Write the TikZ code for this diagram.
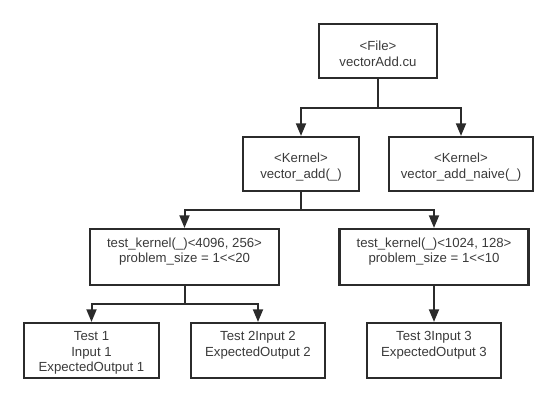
\documentclass[tikz,border=0pt]{standalone}
\usepackage{fontspec}
\setmainfont{Liberation Sans}
\usetikzlibrary{arrows.meta}
\definecolor{ln}{HTML}{2B2B2B}
\definecolor{tx}{HTML}{3A3A3A}
\begin{document}
\begin{tikzpicture}[x=0.75pt,y=-0.75pt,
  box/.style={draw=ln,line width=1.6pt,rectangle,inner sep=0pt,minimum height=#1*0.75pt},
  box/.default=54,
  txt/.style={anchor=north,align=center,text=tx,inner sep=0pt,font=\fontsize{9.9pt}{11.4pt}\selectfont},
  conn/.style={draw=ln,line width=1.5pt},
  arr/.style={conn,-{Triangle[width=7.5pt,length=9.5pt]}}]
\useasboundingbox (0,0) rectangle (558,403);
% boxes
\node[box,minimum width=118*0.75pt] (file) at (378,51) {};
\node[box,minimum width=116*0.75pt] (k1) at (301,164) {};
\node[box,minimum width=144*0.75pt] (k2) at (461,164) {};
\node[box=56,minimum width=189*0.75pt] (t1) at (184.5,257) {};
\node[box=56,minimum width=189*0.75pt] (t2) at (434,257) {};
\node[box=55,minimum width=135*0.75pt] (l1) at (91.5,350.5) {};
\node[box=55,minimum width=134*0.75pt] (l2) at (258,350.5) {};
\node[box=55,minimum width=134*0.75pt] (l3) at (434,350.5) {};
% texts
\node[txt] (file-t) at (378,41) {<File>\\vectorAdd.cu};
\node[txt] (k1-t) at (301,153) {<Kernel>\\vector\_add(\_)};
\node[txt] (k2-t) at (461,153) {<Kernel>\\vector\_add\_naive(\_)};
\node[txt] (t1-t) at (184.5,237.5) {test\_kernel(\_)<4096, 256>\\problem\_size = 1<{}<20};
\node[txt] (t2-t) at (434,237.5) {test\_kernel(\_)<1024, 128>\\problem\_size = 1<{}<10};
\node[txt] (l1-t) at (91.5,331.5) {Test 1\\Input 1\\ExpectedOutput 1};
\node[txt] (l2-t) at (258,331.5) {Test 2Input 2\\ExpectedOutput 2};
\node[txt] (l3-t) at (434,331.5) {Test 3Input 3\\ExpectedOutput 3};
% junctions
\coordinate (j0) at (378,108);
\coordinate (j1) at (301,210);
\coordinate (j2) at (184.5,304);
% connectors
\draw[conn] (file.south) -- (j0);
\draw[arr] (j0) -| (k1.north);
\draw[arr] (j0) -| (k2.north);
\draw[conn] (k1.south) -- (j1);
\draw[arr] (j1) -| (t1.north);
\draw[arr] (j1) -| (t2.north);
\draw[conn] (t1.south) -- (j2);
\draw[arr] (j2) -| (l1.north);
\draw[arr] (j2) -| (l2.north);
\draw[arr] (t2.south) -- (l3.north);
\end{tikzpicture}
\end{document}
